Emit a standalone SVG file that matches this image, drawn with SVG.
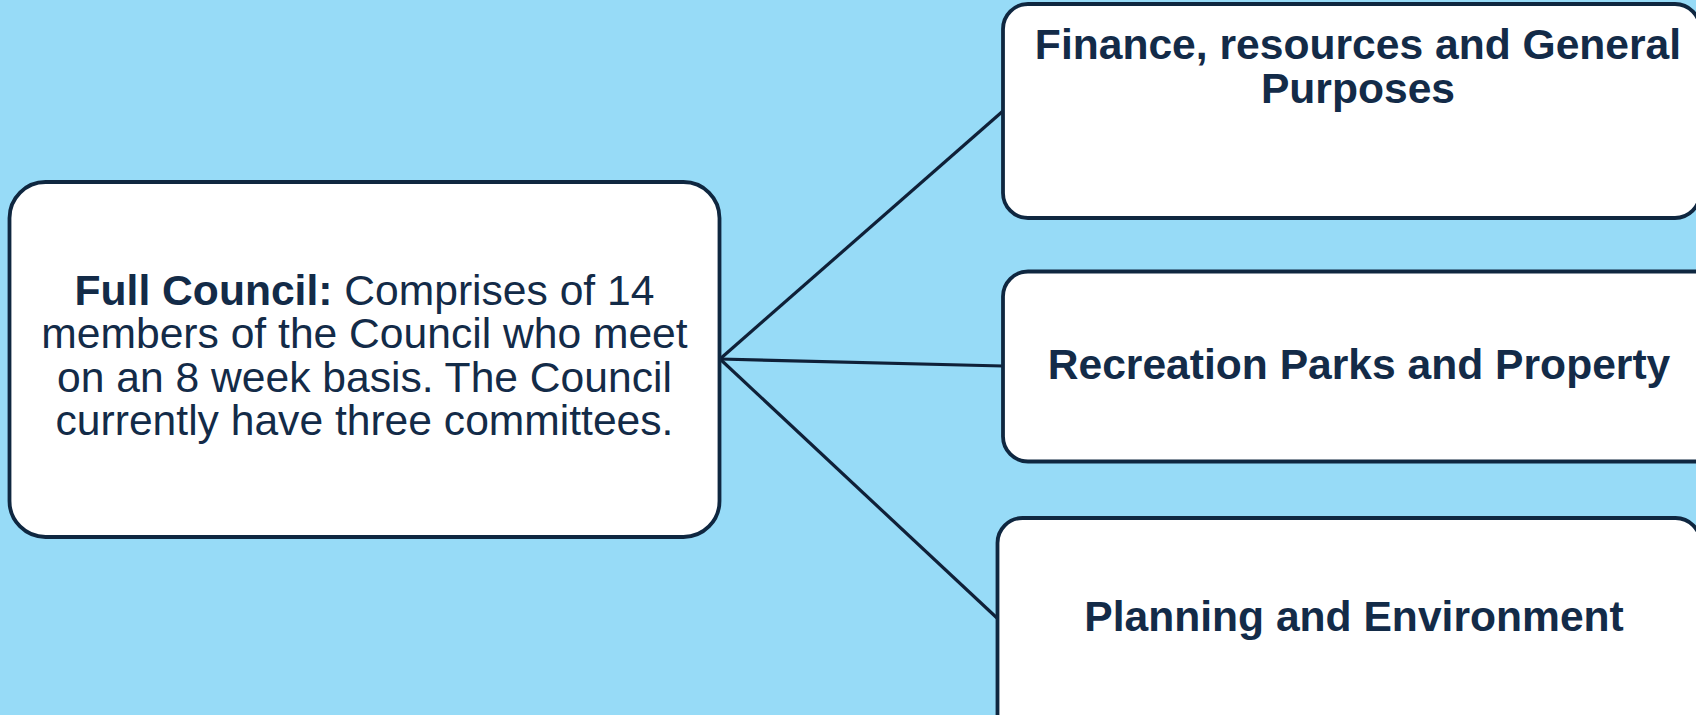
<svg xmlns="http://www.w3.org/2000/svg" width="1696" height="715" viewBox="0 0 1696 715">
<style>
.box{fill:#ffffff;stroke:#0f2740;stroke-width:3.8}
.t{font-family:"Liberation Sans",Arial,sans-serif;font-size:42.6px;fill:#132b48;text-anchor:middle}
.b{font-weight:bold}
.con{stroke:#0f2038;stroke-width:3.2;fill:none}
</style>
<rect x="0" y="0" width="1696" height="715" fill="#97dbf7"/>
<g id="connectors">
<line class="con" x1="720" y1="359" x2="1003" y2="111"/>
<line class="con" x1="720" y1="359" x2="1003" y2="366"/>
<line class="con" x1="720" y1="359" x2="997" y2="618"/>
</g>
<g id="full-council">
<rect class="box" x="9.5" y="182" width="710" height="355" rx="36" ry="36"/>
<text class="t"><tspan x="364.5" y="305"><tspan class="b">Full Council:</tspan> Comprises of 14</tspan><tspan x="364.5" y="348">members of the Council who meet</tspan><tspan x="364.5" y="391.5">on an 8 week basis. The Council</tspan><tspan x="364.5" y="435">currently have three committees.</tspan></text>
</g>
<g id="finance">
<rect class="box" x="1003" y="4" width="697" height="214" rx="25" ry="25"/>
<text class="t b"><tspan x="1358" y="59">Finance, resources and General</tspan><tspan x="1358" y="102.5">Purposes</tspan></text>
</g>
<g id="recreation">
<rect class="box" x="1003" y="271.5" width="720" height="190" rx="25" ry="25"/>
<text class="t b" x="1359" y="379">Recreation Parks and Property</text>
</g>
<g id="planning">
<rect class="box" x="997.5" y="518" width="703" height="230" rx="25" ry="25"/>
<text class="t b" x="1354" y="631">Planning and Environment</text>
</g>
</svg>
